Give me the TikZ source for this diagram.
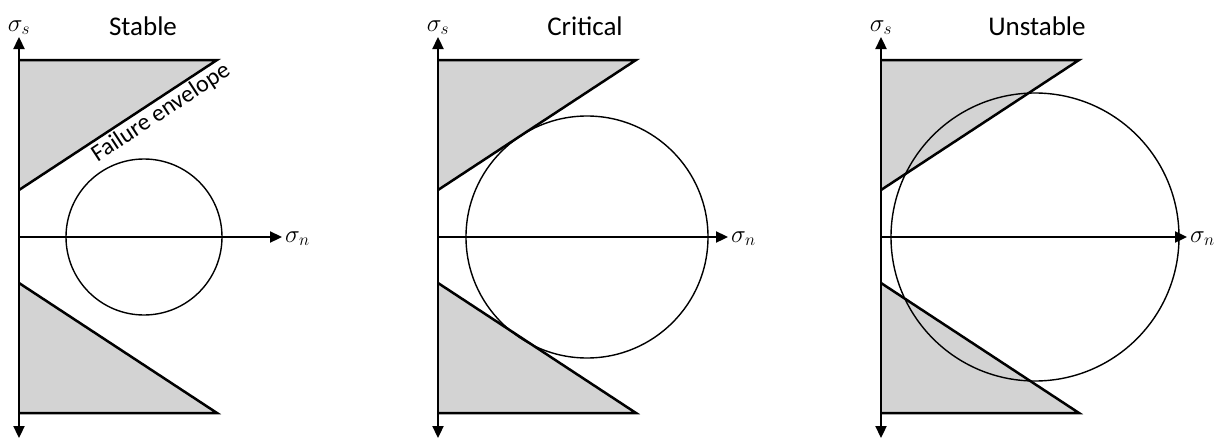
\documentclass[tikz,border=0pt]{standalone}
\usepackage{fontspec}
\setmainfont{Carlito}
\usetikzlibrary{arrows.meta}
\definecolor{envfill}{RGB}{211,211,211}
\tikzset{
  axisarrow/.style={line width=2.3pt, -{Triangle[length=12pt,width=11pt]}},
  biaxis/.style={line width=2.3pt, {Triangle[length=12pt,width=11pt]}-{Triangle[length=12pt,width=11pt]}},
  envelope/.style={line width=2.5pt, line join=miter},
  zone/.style={fill=envfill},
  mohr/.style={line width=1.4pt},
  paneltitle/.style={font=\fontsize{27}{32}\selectfont, anchor=base, inner sep=0pt},
  axlabel/.style={font=\fontsize{27}{32}\selectfont, inner sep=0pt},
  envlabel/.style={font=\fontsize{24}{28}\selectfont, inner sep=3pt},
}
\begin{document}
\begin{tikzpicture}[x=1pt,y=-1pt]
\useasboundingbox (0,0) rectangle (1224,439);
\foreach \i/\ox/\hl/\cx/\r/\ttl/\tx in {1/19/263/125/78/Stable/124, 2/438/290/149/121/Critical/147, 3/881/306/154/144/Unstable/156} {
  \begin{scope}[xshift=\ox pt, yshift=-237pt]
    \coordinate (O\i) at (0,0);
    \coordinate (T1\i) at (0,-177);
    \coordinate (T2\i) at (198,-177);
    \coordinate (T3\i) at (0,-47);
    \coordinate (B1\i) at (0,46);
    \coordinate (B2\i) at (198,176);
    \coordinate (B3\i) at (0,176);
    \coordinate (C\i) at (\cx,0);
    \coordinate (VT\i) at (0,-200);
    \coordinate (VB\i) at (0,201);
    \coordinate (HE\i) at (\hl,0);
    \fill[zone] (T1\i) -- (T2\i) -- (T3\i) -- cycle;
    \fill[zone] (B1\i) -- (B2\i) -- (B3\i) -- cycle;
    \draw[mohr] (C\i) circle[radius=\r];
    \draw[envelope] (T1\i) -- (T2\i) -- (T3\i);
    \draw[envelope] (B1\i) -- (B2\i) -- (B3\i);
    \draw[biaxis] (VB\i) -- (VT\i);
    \draw[axisarrow] (O\i) -- (HE\i);
    \node[axlabel, anchor=base] (LS\i) at (0,-206) {$\sigma_s$};
    \node[axlabel, anchor=base west] (LN\i) at ([xshift=3pt,yshift=-5pt]HE\i) {$\sigma_n$};
    \node[paneltitle] (TT\i) at (\tx,-202) {\ttl};
  \end{scope}
}
\path (T31) -- (T21) node[envlabel, pos=0.68, sloped, below] (ENV) {Failure envelope};
\end{tikzpicture}
\end{document}
